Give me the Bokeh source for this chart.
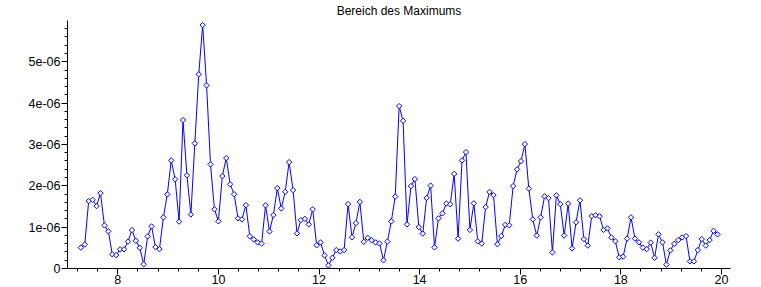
import numpy as np
from bokeh.plotting import figure
from bokeh.models import FixedTicker, CustomJSTickFormatter, Range1d, ColumnDataSource, Label
from bokeh.embed import file_html
from bokeh.resources import INLINE

title_text = "Bereich des Maximums"

x_vals = [
    7.265, 7.343, 7.421, 7.499, 7.578, 7.656, 7.734, 7.812,
    7.890, 7.968, 8.046, 8.124, 8.203, 8.281, 8.359, 8.437,
    8.515, 8.593, 8.671, 8.749, 8.828, 8.906, 8.984, 9.062,
    9.140, 9.218, 9.296, 9.374, 9.453, 9.531, 9.609, 9.687,
    9.765, 9.843, 9.921, 9.999, 10.078, 10.156, 10.234, 10.312,
    10.390, 10.468, 10.546, 10.624, 10.703, 10.781, 10.859, 10.937,
    11.015, 11.093, 11.171, 11.249, 11.328, 11.406, 11.484, 11.562,
    11.640, 11.718, 11.796, 11.874, 11.953, 12.031, 12.109, 12.187,
    12.265, 12.343, 12.421, 12.499, 12.578, 12.656, 12.734, 12.812,
    12.890, 12.968, 13.046, 13.124, 13.203, 13.281, 13.359, 13.437,
    13.515, 13.593, 13.671, 13.749, 13.828, 13.906, 13.984, 14.062,
    14.140, 14.218, 14.296, 14.374, 14.453, 14.531, 14.609, 14.687,
    14.765, 14.843, 14.921, 14.999, 15.078, 15.156, 15.234, 15.312,
    15.390, 15.468, 15.546, 15.624, 15.703, 15.781, 15.859, 15.937,
    16.015, 16.093, 16.171, 16.249, 16.328, 16.406, 16.484, 16.562,
    16.640, 16.718, 16.796, 16.874, 16.953, 17.031, 17.109, 17.187,
    17.265, 17.343, 17.421, 17.499, 17.578, 17.656, 17.734, 17.812,
    17.890, 17.968, 18.046, 18.124, 18.203, 18.281, 18.359, 18.437,
    18.515, 18.593, 18.671, 18.749, 18.828, 18.906, 18.984, 19.062,
    19.140, 19.218, 19.296, 19.374, 19.453, 19.531, 19.609, 19.687,
    19.765, 19.843, 19.921,
]

# values in units of 1e-6
y_micro = [
    0.505, 0.583, 1.630, 1.661, 1.509, 1.823, 1.042, 0.900,
    0.343, 0.324, 0.464, 0.464, 0.651, 0.929, 0.670, 0.501,
    0.102, 0.776, 1.018, 0.518, 0.469, 1.236, 1.792, 2.614,
    2.157, 1.134, 3.589, 2.254, 1.308, 3.025, 4.696, 5.886,
    4.428, 2.518, 1.432, 1.141, 2.235, 2.670, 2.036, 1.797,
    1.212, 1.187, 1.533, 0.779, 0.704, 0.631, 0.602, 1.528,
    0.895, 1.291, 1.944, 1.453, 1.855, 2.573, 1.896, 0.849,
    1.170, 1.200, 1.067, 1.432, 0.561, 0.631, 0.317, 0.075,
    0.259, 0.445, 0.414, 0.445, 1.557, 0.755, 1.098, 1.611,
    0.646, 0.742, 0.684, 0.631, 0.607, 0.198, 0.651, 1.139,
    1.739, 3.927, 3.572, 1.067, 1.993, 2.162, 1.001, 0.844,
    1.707, 2.005, 0.510, 1.214, 1.333, 1.570, 1.553, 2.288,
    0.723, 2.614, 2.815, 0.933, 1.577, 0.658, 0.602, 1.485,
    1.852, 1.775, 0.585, 0.788, 1.057, 1.045, 1.993, 2.397,
    2.597, 3.008, 1.932, 1.187, 0.796, 1.236, 1.746, 1.703,
    0.389, 1.770, 1.557, 0.796, 1.570, 0.486, 1.117, 1.649,
    0.711, 0.554, 1.267, 1.287, 1.262, 0.933, 0.970, 0.752,
    0.658, 0.271, 0.288, 0.723, 1.236, 0.723, 0.634, 0.505,
    0.469, 0.626, 0.259, 0.827, 0.631, 0.094, 0.438, 0.597,
    0.687, 0.752, 0.784, 0.172, 0.172, 0.445, 0.711, 0.554,
    0.687, 0.912, 0.825,
]

x_major_ticks = [8, 10, 12, 14, 16, 18, 20]
x_minor_ticks = [7.2, 7.6, 8.0, 8.4, 8.8, 9.2, 9.6, 10.0, 10.4, 10.8, 11.2, 11.6,
                 12.0, 12.4, 12.8, 13.2, 13.6, 14.0, 14.4, 14.8, 15.2, 15.6, 16.0,
                 16.4, 16.8, 17.2, 17.6, 18.0, 18.4, 18.8, 19.2, 19.6, 20.0]
y_major_ticks = [0, 1e-6, 2e-6, 3e-6, 4e-6, 5e-6]
y_minor_ticks = [k * 0.2e-6 for k in range(0, 30)]

y_vals = [v * 1e-6 for v in y_micro]
src = ColumnDataSource(data=dict(x=x_vals, y=y_vals))

FONT = "Liberation Sans"
Y_AXIS_TOP = 5.99e-6

p = figure(width=761, height=287, output_backend="svg", toolbar_location=None,
           x_range=Range1d(7.0, 20.18), y_range=Range1d(0, 6.481e-6),
           min_border_left=67, min_border_right=31, min_border_top=0,
           min_border_bottom=19)

# chart title, centred above the plotted area
p.add_layout(Label(x=13.59, y=6.215e-6, x_units="data", y_units="data",
                   text=title_text, text_align="center", text_baseline="alphabetic",
                   text_font=FONT, text_font_size="12px", text_color="black"))

p.outline_line_color = None
p.background_fill_color = "white"
p.border_fill_color = "white"
p.xgrid.visible = False
p.ygrid.visible = False

p.line("x", "y", source=src, line_color="#0000FF", line_width=1)
p.scatter("x", "y", source=src, marker="square", angle=np.pi / 4, size=3.8,
          fill_color="white", line_color="#0000FF", line_width=1)

for ax in (p.xaxis[0], p.yaxis[0]):
    ax.axis_line_color = "black"
    ax.major_tick_line_color = "black"
    ax.minor_tick_line_color = "black"
    ax.major_tick_out = 6
    ax.major_tick_in = 0
    ax.minor_tick_out = 3
    ax.minor_tick_in = 0
    ax.major_label_text_font = FONT
    ax.major_label_text_font_size = "12.5px"
    ax.major_label_text_color = "black"

p.yaxis[0].bounds = (0, Y_AXIS_TOP)
p.xaxis[0].ticker = FixedTicker(ticks=x_major_ticks, minor_ticks=x_minor_ticks)
p.yaxis[0].ticker = FixedTicker(ticks=y_major_ticks, minor_ticks=y_minor_ticks)
p.xaxis[0].major_label_standoff = 0
p.yaxis[0].major_label_standoff = 1
p.yaxis[0].formatter = CustomJSTickFormatter(
    code="return Math.abs(tick) < 1e-12 ? '0' : Math.round(tick * 1e6) + 'e-06';")

open("out.html", "w").write(file_html(p, INLINE))
